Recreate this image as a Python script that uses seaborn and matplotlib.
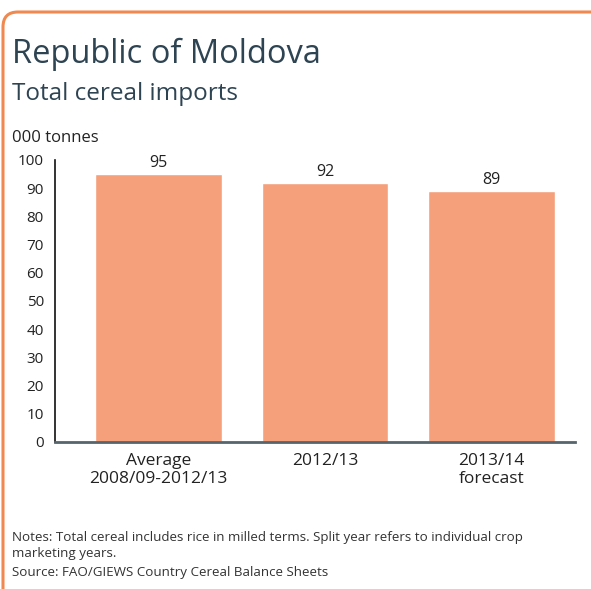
import seaborn as sns
import matplotlib.pyplot as plt
from matplotlib.patches import FancyBboxPatch

# data
categories = ['Average\n2008/09-2012/13', '2012/13', '2013/14\nforecast']
imports = [95, 92, 89]
yticks = [0, 10, 20, 30, 40, 50, 60, 70, 80, 90, 100]

sns.set_style('white')
plt.rcParams['font.family'] = ['Open Sans', 'DejaVu Sans']

fig = plt.figure(figsize=(5.91, 5.89), dpi=100)
ax = fig.add_axes([0.093, 0.2496, 0.88, 0.4788])

sns.barplot(x=categories, y=imports, color='#F5A07A', width=0.76,
            saturation=1, ax=ax)
for c in ax.containers:
    ax.bar_label(c, fontsize=11.5, color='#222222', padding=2)

ax.set_ylim(0, 100)
ax.set_xlim(-0.62, 2.5)
ax.set_yticks(yticks)
ax.tick_params(axis='y', length=0, pad=8, labelsize=11, labelcolor='#222222')
ax.tick_params(axis='x', length=0, pad=8, labelsize=12.5, labelcolor='#222222')
ax.spines['top'].set_visible(False)
ax.spines['right'].set_visible(False)
ax.spines['left'].set_color('#111111')
ax.spines['left'].set_linewidth(1.2)
ax.spines['bottom'].set_color('#56646E')
ax.spines['bottom'].set_linewidth(2)

# texts
fig.text(12/591, 1-63/589, 'Republic of Moldova', fontsize=23.5,
         color='#2E4453', va='baseline')
fig.text(12/591, 1-100/589, 'Total cereal imports', fontsize=17.5,
         color='#2E4453', va='baseline')
fig.text(12/591, 1-142/589, '000 tonnes', fontsize=12,
         color='#222222', va='baseline')
fig.text(12/591, 1-557/589,
         'Notes: Total cereal includes rice in milled terms. Split year refers to individual crop\nmarketing years.',
         fontsize=9.6, color='#333333', va='baseline', linespacing=1.35)
fig.text(12/591, 1-576/589, 'Source: FAO/GIEWS Country Cereal Balance Sheets',
         fontsize=9.6, color='#333333', va='baseline')

# orange frame
frame = FancyBboxPatch((0.03, -1), 10, 5.77 + 1,
                       boxstyle='round,pad=0,rounding_size=0.15',
                       transform=fig.dpi_scale_trans, facecolor='none',
                       edgecolor='#F0894F', linewidth=2.2, clip_on=False)
fig.patches.append(frame)

fig.savefig('out.png', dpi=100)
